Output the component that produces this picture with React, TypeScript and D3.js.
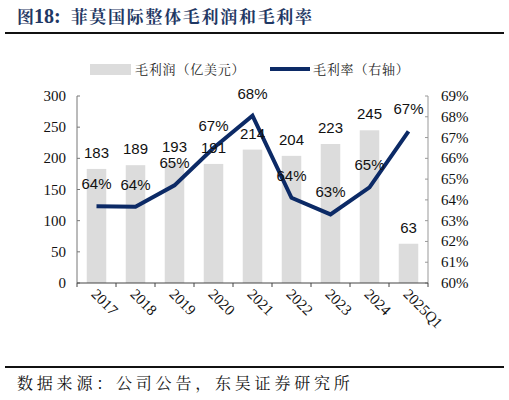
import React from "react";
import * as d3 from "d3";

const categories = ["2017", "2018", "2019", "2020", "2021", "2022", "2023", "2024", "2025Q1"];
const grossProfit = [183, 189, 193, 191, 214, 204, 223, 245, 63];
const grossMargin = [63.69, 63.67, 64.7, 66.5, 68.05, 64.1, 63.3, 64.6, 67.3];
const marginLabels = ["64%", "64%", "65%", "67%", "68%", "64%", "63%", "65%", "67%"];
const leftTicks = [0, 50, 100, 150, 200, 250, 300];
const rightTicks = [60, 61, 62, 63, 64, 65, 66, 67, 68, 69];

const W = 509;
const H = 400;
const L = 77;
const R = 428;
const T = 96;
const B = 283;

const NAVY = "#0c2a66";
const BAR = "#dcdcdc";
const SERIF = "Liberation Serif, serif";
const SANS = "Liberation Sans, Arial, sans-serif";
const CJK_SERIF = "Noto Serif CJK SC, serif";

export default function App() {
  const x = d3.scaleBand<string>().domain(categories).range([L, R]).paddingInner(0.5).paddingOuter(0.25);
  const yL = d3.scaleLinear().domain([0, 300]).range([B, T]);
  const yR = d3.scaleLinear().domain([60, 69]).range([B, T]);
  const cx = (c: string) => (x(c) as number) + x.bandwidth() / 2;

  const line = d3
    .line<number>()
    .x((_, i) => cx(categories[i]))
    .y((d) => yR(d));

  const catTicks = d3.range(categories.length + 1).map((i) => L + i * ((R - L) / categories.length));

  return (
    <svg width={W} height={H} style={{ position: "absolute", left: 0, top: 0, background: "#fff" }}>
      {/* Title */}
      <text x={17} y={23} fill="#1f3864" fontFamily={CJK_SERIF} fontSize={17} fontWeight={700}>
        <tspan>图</tspan>
        <tspan fontFamily={SERIF} fontSize={20}>18:</tspan>
        <tspan dx={10} letterSpacing={1.7}>菲莫国际整体毛利润和毛利率</tspan>
      </text>
      <line x1={5} x2={504} y1={33} y2={33} stroke="#111" strokeWidth={2.2} />

      {/* Legend */}
      <rect x={90} y={64} width={41} height={11} fill={BAR} />
      <text x={135} y={74} fill="#222" fontFamily={CJK_SERIF} fontSize={13} letterSpacing={0.8}>
        毛利润（亿美元）
      </text>
      <line x1={270} x2={310} y1={69} y2={69} stroke={NAVY} strokeWidth={4} />
      <text x={313} y={74} fill="#222" fontFamily={CJK_SERIF} fontSize={13} letterSpacing={0.8}>
        毛利率（右轴）
      </text>

      {/* Bars */}
      {categories.map((c, i) => (
        <rect key={c} x={x(c)} y={yL(grossProfit[i])} width={x.bandwidth()} height={B - yL(grossProfit[i])} fill={BAR} />
      ))}

      {/* Axes */}
      <line x1={L} x2={L} y1={T} y2={B} stroke="#777" strokeWidth={1} />
      {leftTicks.map((t) => (
        <g key={t}>
          <line x1={L} x2={L + 3} y1={yL(t)} y2={yL(t)} stroke="#777" />
          <text x={L - 11} y={yL(t) + 5} textAnchor="end" fill="#111" fontFamily={SERIF} fontSize={15}>
            {t}
          </text>
        </g>
      ))}
      <line x1={R} x2={R} y1={T} y2={B} stroke="#999" strokeWidth={1} />
      {rightTicks.map((t) => (
        <g key={t}>
          <line x1={R - 3} x2={R} y1={yR(t)} y2={yR(t)} stroke="#999" />
          <text x={R + 13} y={yR(t) + 5} fill="#111" fontFamily={SERIF} fontSize={15}>
            {t}%
          </text>
        </g>
      ))}
      <line x1={L} x2={R} y1={B} y2={B} stroke="#444" strokeWidth={1} />
      {catTicks.map((t, i) => (
        <line key={i} x1={t} x2={t} y1={B} y2={B + 4} stroke="#444" />
      ))}
      {categories.map((c) => (
        <text
          key={c}
          transform={`translate(${cx(c) - 6},${B + 12}) rotate(45)`}
          fill="#111"
          fontFamily={SERIF}
          fontSize={15}
        >
          {c}
        </text>
      ))}

      {/* Line */}
      <path d={line(grossMargin) || ""} fill="none" stroke={NAVY} strokeWidth={4} strokeLinejoin="miter" />

      {/* Bar labels */}
      {categories.map((c, i) => (
        <text key={c} x={cx(c)} y={yL(grossProfit[i]) - 11} textAnchor="middle" fill="#111" fontFamily={SANS} fontSize={15}>
          {grossProfit[i]}
        </text>
      ))}
      {/* Margin labels */}
      {categories.map((c, i) => (
        <text key={c} x={cx(c)} y={yR(grossMargin[i]) - 17} textAnchor="middle" fill="#111" fontFamily={SANS} fontSize={15}>
          {marginLabels[i]}
        </text>
      ))}

      {/* Footer */}
      <line x1={5} x2={504} y1={367} y2={367} stroke="#111" strokeWidth={2.2} />
      <text x={17} y={389} fill="#111" fontFamily={CJK_SERIF} fontSize={16} letterSpacing={3.8}>
        数据来源：公司公告，东吴证券研究所
      </text>
    </svg>
  );
}
